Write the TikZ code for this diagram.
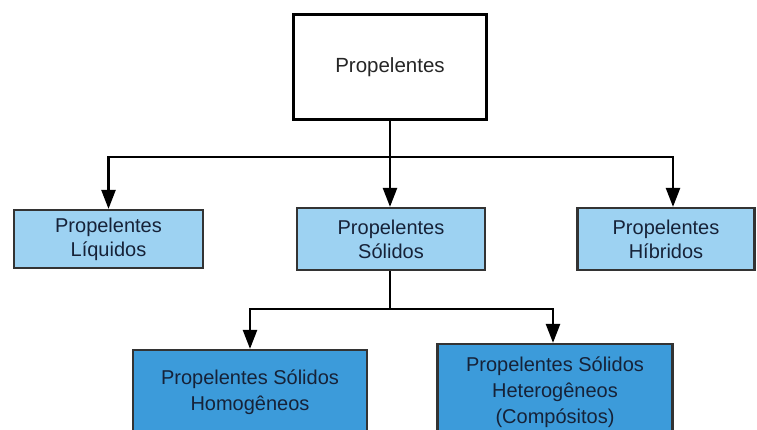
\documentclass[tikz,border=0pt]{standalone}
\usepackage{fontspec}
\setmainfont{Liberation Sans}
\usetikzlibrary{arrows.meta}
\definecolor{lightbox}{RGB}{157,210,242}
\definecolor{darkbox}{RGB}{60,155,218}
\definecolor{txt}{RGB}{22,34,56}
\tikzset{
  topbox/.style={draw=black, line width=2.6pt, fill=white, minimum width=193pt, minimum height=105pt, inner sep=0pt, font=\fontsize{20.5}{24}\selectfont, text=black!85},
  midbox/.style={draw=black!80, line width=2.2pt, fill=lightbox, align=center, inner sep=0pt, font=\fontsize{20}{24}\selectfont, text=txt},
  lowbox/.style={draw=black!80, line width=2.2pt, fill=darkbox, align=center, inner sep=0pt, font=\fontsize{20}{26}\selectfont, text=txt},
  conn/.style={line width=2.4pt, draw=black},
  arr/.style={conn, -{Triangle[width=14pt,length=19pt]}}
}
\begin{document}
\begin{tikzpicture}[x=1pt,y=-1pt]
\useasboundingbox (0,0) rectangle (757,429);
\clip (0,0) rectangle (757,429);
\fill[white] (0,0) rectangle (757,429);
\node[topbox] (T) at (390,67) {Propelentes};
\node[midbox, minimum width=189pt, minimum height=58pt] (L) at (108.5,239) {Propelentes\\Líquidos};
\node[midbox, minimum width=188pt, minimum height=62pt] (M) at (391,239) {Propelentes\\Sólidos};
\node[midbox, minimum width=177pt, minimum height=62pt] (R) at (666,239) {Propelentes\\Híbridos};
\node[lowbox, minimum width=234pt, minimum height=84pt] (BL) at (250,392) {Propelentes Sólidos\\Homogêneos};
\node[lowbox, minimum width=235pt, minimum height=96pt] (BR) at (555,392) {Propelentes Sólidos\\Heterogêneos\\(Compósitos)};
\coordinate (j1) at (390,157);
\coordinate (j2) at (390,309);
\draw[conn] (T.south) -- (j1);
\draw[arr] (j1) -| (L.north);
\draw[arr] (j1) -| ([xshift=7pt]R.north);
\draw[arr] (j1) -- (j1 |- M.north);
\draw[conn] (j2 |- M.south) -- (j2);
\draw[arr] (j2) -| (BL.north);
\draw[arr] (j2) -| ([xshift=-2pt]BR.north);
\end{tikzpicture}
\end{document}
